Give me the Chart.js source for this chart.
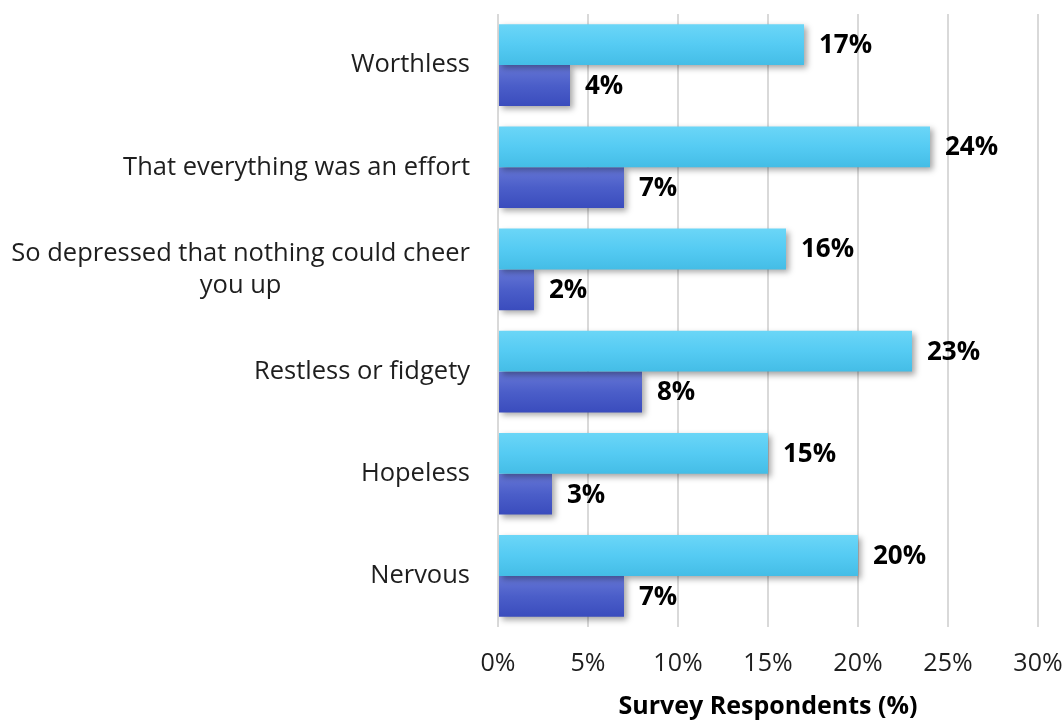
<!DOCTYPE html>
<html>
<head>
<meta charset="utf-8">
<script src="https://cdn.jsdelivr.net/npm/chart.js@4"></script>
<style>
  html, body { margin: 0; padding: 0; background: #fff; }
  #wrap { width: 1063px; height: 722px; }
</style>
</head>
<body>
<div id="wrap"><canvas id="chart" width="1063" height="722"></canvas></div>
<script>
// categories, top to bottom
const categories = [
    'Worthless',
    'That everything was an effort',
    ['So depressed that nothing could cheer', 'you up'],
    'Restless or fidgety',
    'Hopeless',
    'Nervous'
];
// upper (light) bar in each pair
const lightValues = [17, 24, 16, 23, 15, 20];
// lower (dark) bar in each pair
const darkValues = [4, 7, 2, 8, 3, 7];
const xTicks = [0, 5, 10, 15, 20, 25, 30];

const FONT = "'Open Sans', 'Noto Sans', sans-serif";
const LABEL_SIZE = 25.5;

// vertical gradient per bar + soft drop shadow
const barLook = {
    id: 'barLook',
    beforeDatasetDraw(chart, args) {
        const ctx = chart.ctx;
        const stops = args.index === 0
            ? ['#6bd6f7', '#55cbf3', '#44bde6']
            : ['#6677d6', '#4b5ec9', '#3a4cbd'];
        args.meta.data.forEach(el => {
            const { y, height } = el.getProps(['y', 'height'], true);
            const g = ctx.createLinearGradient(0, y - height / 2, 0, y + height / 2);
            g.addColorStop(0, stops[0]);
            g.addColorStop(0.5, stops[1]);
            g.addColorStop(1, stops[2]);
            el.options.backgroundColor = g;
        });
        ctx.save();
        ctx.shadowColor = 'rgba(0,0,0,0.35)';
        ctx.shadowBlur = 6;
        ctx.shadowOffsetX = 3;
        ctx.shadowOffsetY = 3;
    },
    afterDatasetDraw(chart) {
        chart.ctx.restore();
    }
};

// value labels at the end of each bar
const valueLabels = {
    id: 'valueLabels',
    afterDatasetsDraw(chart) {
        const ctx = chart.ctx;
        ctx.save();
        ctx.font = 'bold 26px ' + FONT;
        ctx.fillStyle = '#000';
        ctx.textAlign = 'left';
        ctx.textBaseline = 'middle';
        chart.data.datasets.forEach((ds, i) => {
            chart.getDatasetMeta(i).data.forEach((el, j) => {
                ctx.fillText(ds.data[j] + '%', el.x + 15, el.y + 1);
            });
        });
        ctx.restore();
    }
};

// category labels: block right-aligned to the axis, lines centred in it
const categoryLabels = {
    id: 'categoryLabels',
    afterDraw(chart) {
        const ctx = chart.ctx;
        const yScale = chart.scales.y;
        const right = yScale.right - 28;
        const lineH = 32;
        ctx.save();
        ctx.font = LABEL_SIZE + 'px ' + FONT;
        ctx.fillStyle = '#1e1e1e';
        ctx.textAlign = 'center';
        ctx.textBaseline = 'middle';
        categories.forEach((cat, i) => {
            const lines = Array.isArray(cat) ? cat : [cat];
            const w = Math.max(...lines.map(l => ctx.measureText(l).width));
            const cx = right - w / 2;
            const cy = yScale.getPixelForValue(i);
            const y0 = cy - (lines.length - 1) * lineH / 2;
            lines.forEach((l, k) => ctx.fillText(l, cx, y0 + k * lineH));
        });
        ctx.restore();
    }
};

new Chart(document.getElementById('chart'), {
    type: 'bar',
    data: {
        labels: categories,
        datasets: [
            { label: 'Light', data: lightValues, backgroundColor: () => '#55cbf3' },
            { label: 'Dark', data: darkValues, backgroundColor: () => '#4b5ec9' }
        ]
    },
    options: {
        indexAxis: 'y',
        responsive: false,
        animation: false,
        categoryPercentage: 0.8,
        barPercentage: 1.0,
        layout: { padding: { top: 14, right: 4, left: 0, bottom: 0 } },
        plugins: {
            legend: { display: false },
            tooltip: { enabled: false }
        },
        scales: {
            x: {
                min: 0,
                max: 30,
                afterBuildTicks(scale) {
                    scale.ticks = xTicks.map(v => ({ value: v }));
                },
                ticks: {
                    callback: v => v + '%',
                    color: '#1e1e1e',
                    font: { family: FONT, size: 25 },
                    padding: 22,
                    maxRotation: 0
                },
                grid: { color: '#d9d9d9', lineWidth: 2, drawTicks: false },
                border: { display: false },
                title: {
                    display: true,
                    text: 'Survey Respondents (%)',
                    color: '#000',
                    font: { family: FONT, size: 25, weight: 'bold' },
                    padding: { top: 4, bottom: 0 }
                },
                afterFit(scale) {
                    scale.height = 95;
                    scale.paddingLeft = 0;
                    scale.paddingRight = 25;
                }
            },
            y: {
                ticks: {
                    color: 'transparent',
                    font: { family: FONT, size: LABEL_SIZE },
                    padding: 26
                },
                grid: { display: false, drawTicks: false },
                border: { display: false },
                afterFit(scale) {
                    scale.width = 498;
                    scale.paddingTop = 0;
                    scale.paddingBottom = 0;
                }
            }
        }
    },
    plugins: [barLook, valueLabels, categoryLabels]
});
</script>
</body>
</html>
